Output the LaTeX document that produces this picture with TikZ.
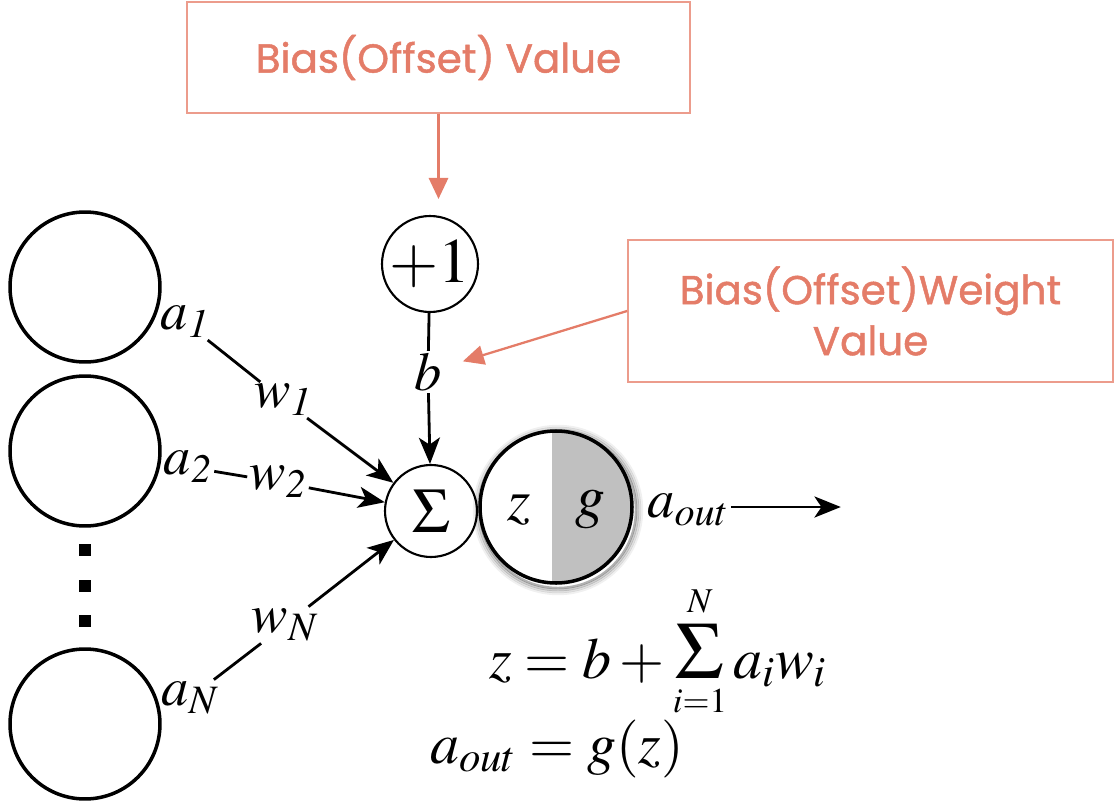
\documentclass[tikz,border=0pt]{standalone}
\usepackage{mathptmx}
\usepackage[no-math]{fontspec}
\newfontfamily\notefont[FakeBold=1.2]{Poppins}
\usetikzlibrary{arrows.meta}
\definecolor{noteRed}{RGB}{228,124,104}
\definecolor{noteLine}{RGB}{236,156,140}
\definecolor{gShade}{RGB}{192,192,192}

\begin{document}
\begin{tikzpicture}[x=0.02cm, y=-0.02cm,
    neuron/.style={circle, draw, line width=2pt, minimum size=3.0cm, inner sep=0pt},
    unit/.style={circle, draw, line width=1.2pt, inner sep=0pt},
    lbl/.style={inner sep=1pt, font=\fontsize{31}{36}\selectfont},
    link/.style={line width=1.6pt},
    feed/.style={line width=1.6pt, -{Stealth[length=15pt, width=12pt, inset=4pt]}},
    note/.style={draw=noteLine, line width=1.1pt, text=noteRed, align=center,
      font=\notefont\fontsize{23}{29}\selectfont},
    pointer/.style={draw=noteRed, line width=1.3pt, -{Triangle[length=12pt, width=11pt]}}]
  \useasboundingbox (0,0) rectangle (1117,805);

  % input neurons
  \node[neuron] (in1) at (85,287) {};
  \node[neuron] (in2) at (85,451) {};
  \node[neuron] (inN) at (85,724) {};
  \foreach \y in {550,586,621}
    \fill (79,\y-6) rectangle ++(12,12);

  % bias and summation
  \node[unit, minimum size=1.92cm, font=\fontsize{36}{40}\selectfont] (one) at (430,264) {$+1$};
  \node[lbl] (b) at (428,372) {$b$};
  \node[unit, minimum size=1.84cm, font=\fontsize{36}{40}\selectfont] (sum) at (431,511) {$\Sigma$};

  % activation unit, with a soft shadow
  \foreach \r/\o in {84/0.06,82/0.12,80/0.2,78/0.3}
    \draw[black, opacity=\o, line width=1.4pt] (558,510) circle (\r);
  \node[circle, minimum size=3.04cm, inner sep=0pt] (act) at (556,507) {};
  \fill[white] (act.center) circle (76);
  \begin{scope}
    \clip (act.center) circle (76);
    \fill[gShade] (552,420) rectangle (640,600);
  \end{scope}
  \draw[line width=2pt] (act.center) circle (76);
  \node[lbl, font=\fontsize{34}{38}\selectfont] (zlbl) at (519,510) {$z$};
  \node[lbl, font=\fontsize{34}{38}\selectfont] (glbl) at (590,510) {$g$};

  % weights
  \node[lbl] (a1) at (185,322) {$a_{\mathit{1}}$};
  \node[lbl] (w1) at (283,400) {$w_{\mathit{1}}$};
  \node[lbl] (a2) at (188,467) {$a_{\mathit{2}}$};
  \node[lbl] (w2) at (278,482) {$w_{\mathit{2}}$};
  \node[lbl] (aN) at (190,698) {$a_N$};
  \node[lbl] (wN) at (285,625) {$w_N$};
  \node[lbl] (aout) at (688,510) {$a_{out}$};
  \path (aout.east) ++(110,-3) coordinate (outend);

  \draw[link] (a1) -- (w1);
  \draw[link] (a2) -- (w2);
  \draw[link] (aN) -- (wN);
  \draw[feed] (w1) -- (sum);
  \draw[feed] (w2) -- (sum);
  \draw[feed] (wN) -- (sum);
  \draw[link] (one) -- (b);
  \draw[feed] (b) -- (sum);
  \draw[feed] (aout.east |- outend) -- (outend);

  % equations
  \node[anchor=base, inner sep=0pt, font=\fontsize{33}{38}\selectfont] (zeq) at (658,678)
    {$z = b + \mathop{\hbox{\fontsize{46}{46}\selectfont$\Sigma$}}\limits_{\scriptscriptstyle i=1}^{\scriptscriptstyle N} a_i w_i$};
  \node[anchor=base, inner sep=0pt, font=\fontsize{33}{38}\selectfont] (aeq) at (557,763) {$a_{out} = g(z)$};

  % notes
  \node[note, minimum width=10.06cm, minimum height=2.22cm] (biasbox) at (438.5,57.5) {Bias(Offset) Value};
  \node[note, minimum width=9.7cm, minimum height=2.84cm] (weightbox) at (870.5,311) {Bias(Offset)Weight\\Value};
  \draw[pointer, shorten >=0.32cm] (biasbox.south) -- (biasbox.south |- one.north);
  \draw[pointer, shorten >=0.4cm] (weightbox.west) -- (b);
\end{tikzpicture}
\end{document}
